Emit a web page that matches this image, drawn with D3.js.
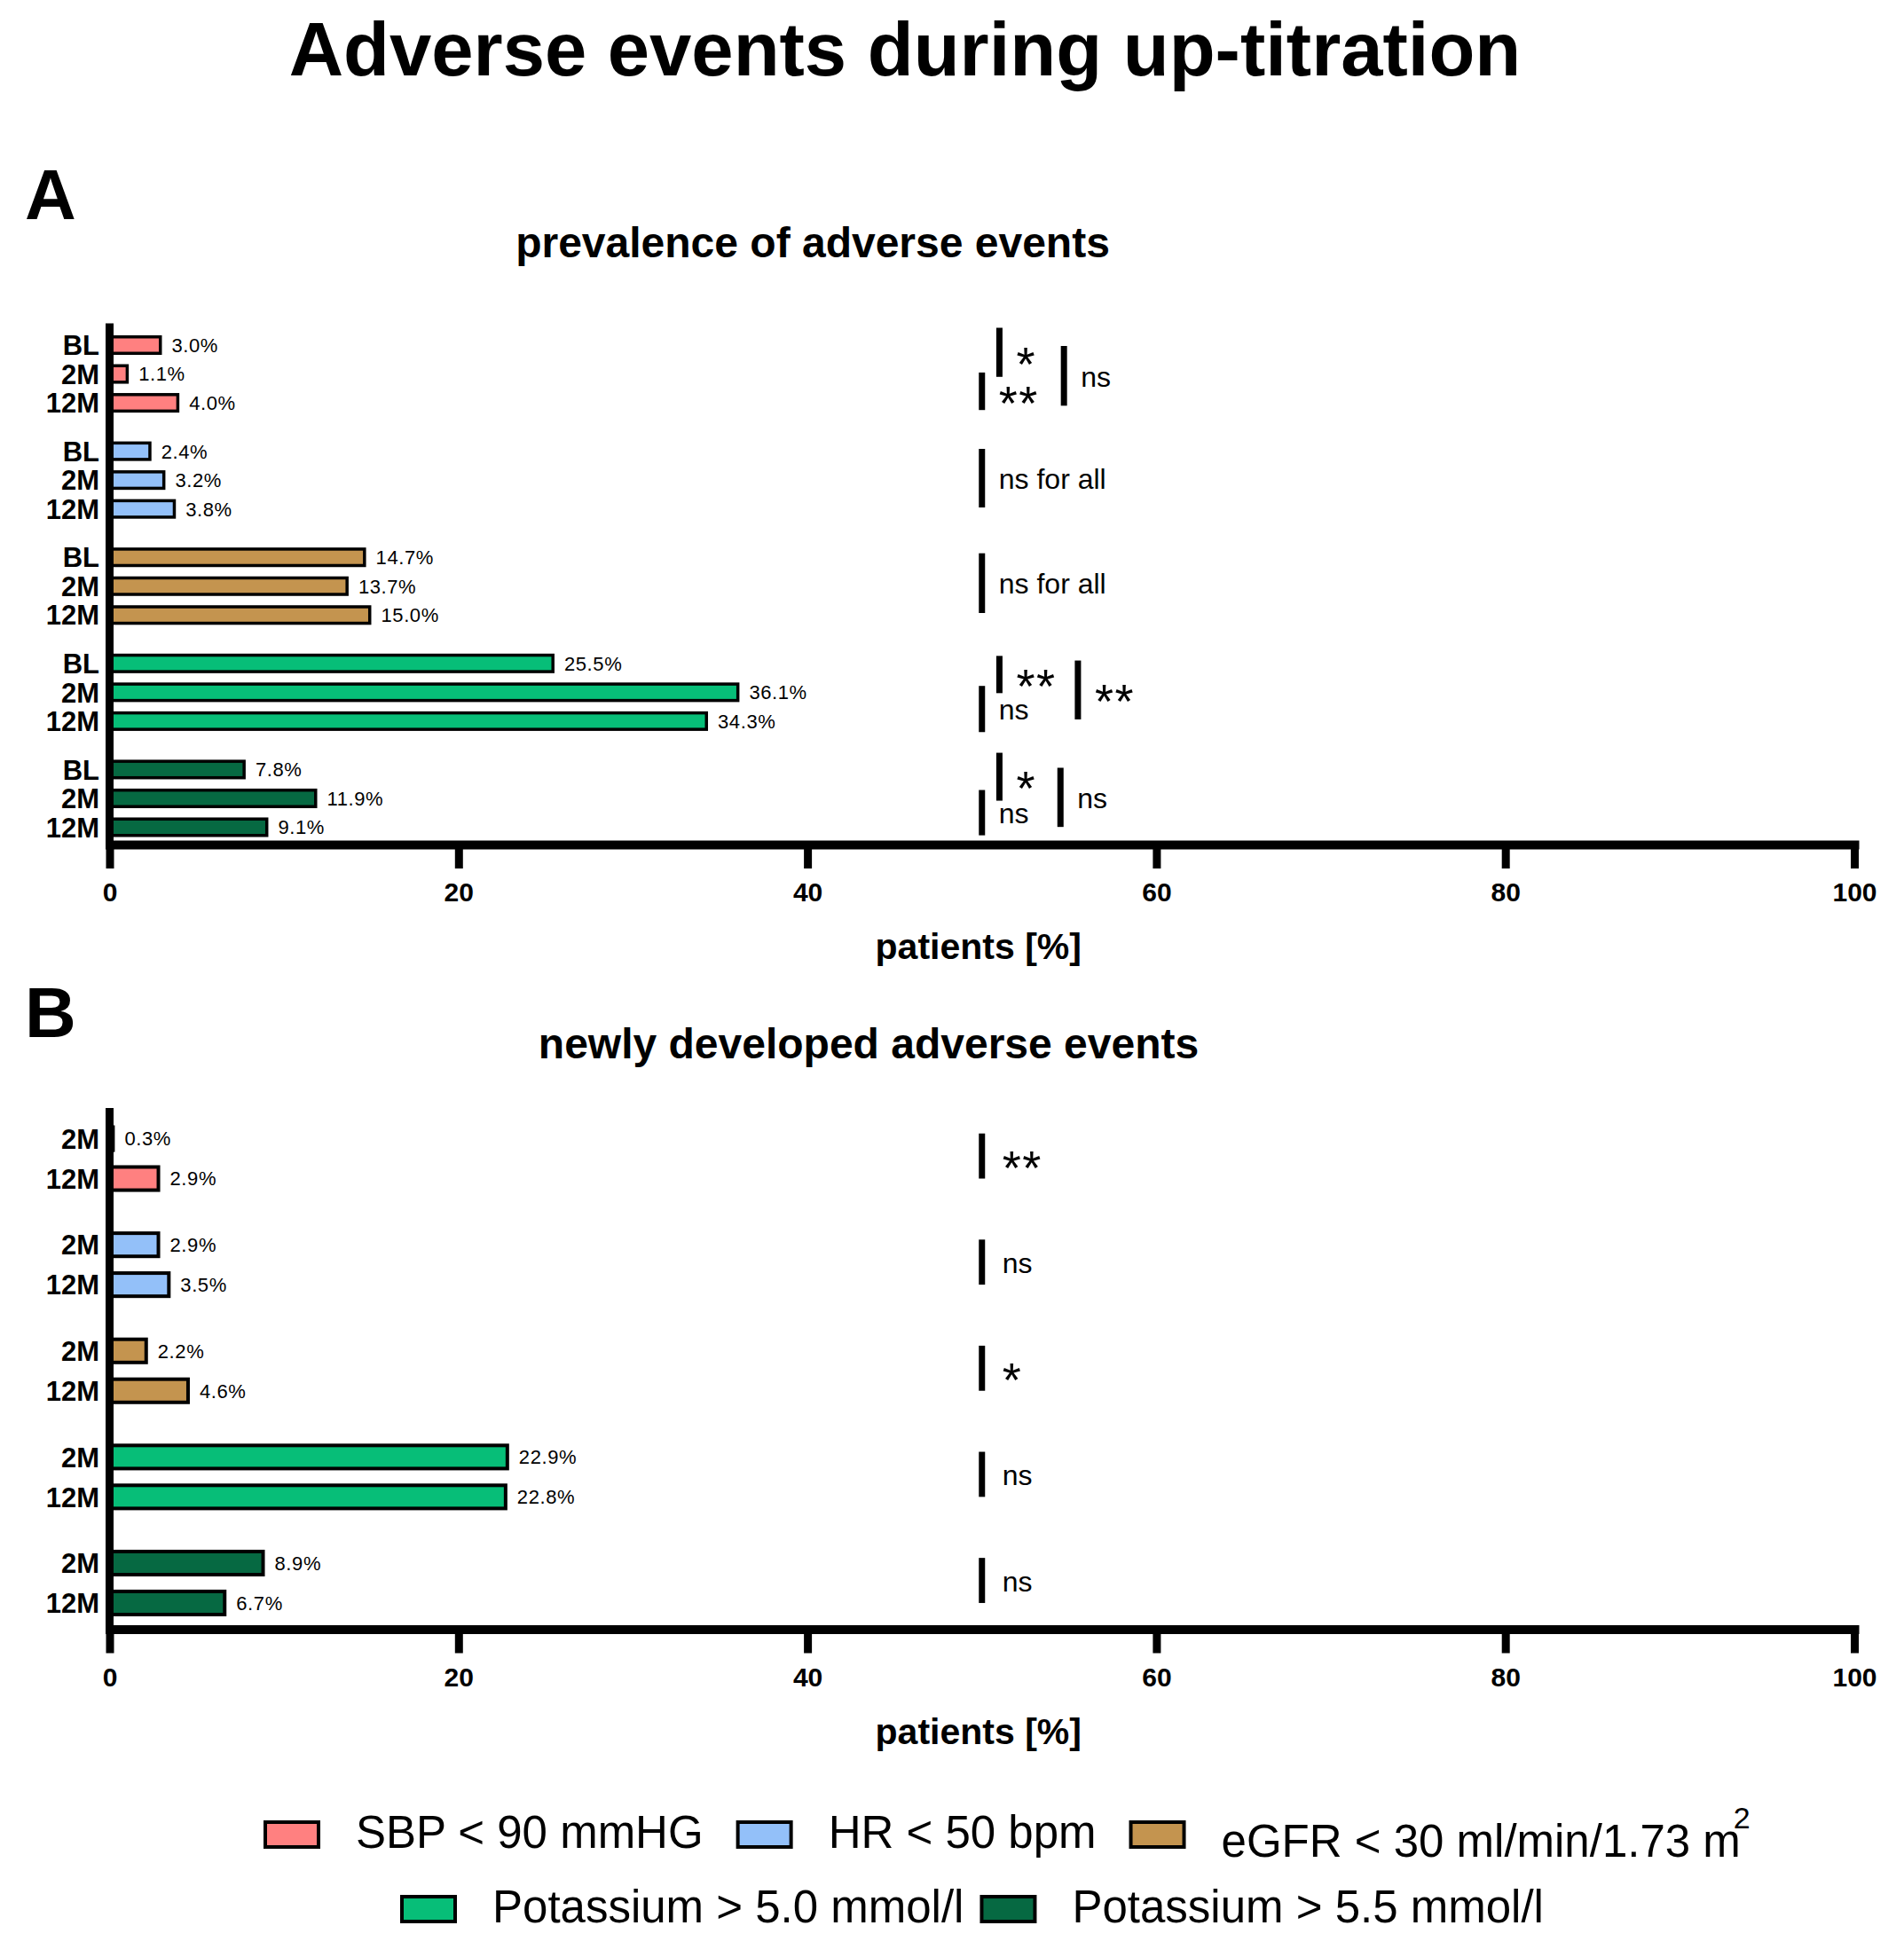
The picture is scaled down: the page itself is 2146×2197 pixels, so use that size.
<!DOCTYPE html>
<html>
<head>
<meta charset="utf-8">
<script src="https://d3js.org/d3.v7.min.js"></script>
<style>
body { margin: 0; background: #fff; }
text { font-family: "Liberation Sans", Arial, sans-serif; fill: #000; }
.bar { stroke: #000; }
.sig { stroke: #000; stroke-width: 7; }
</style>
</head>
<body>
<div id="chart"></div>
<script>
// ---- data ----
const groups = ["SBP", "HR", "eGFR", "K50", "K55"];
const legendLabels = ["SBP < 90 mmHG", "HR < 50 bpm", "eGFR < 30 ml/min/1.73 m", "Potassium > 5.0 mmol/l", "Potassium > 5.5 mmol/l"];
const colors = ["#ff8080", "#93c0f9", "#c4944f", "#07be78", "#066942"];
const xTicks = [0, 20, 40, 60, 80, 100];

// A: prevalence at baseline, 2 months, 12 months
const prevTimes = ["BL", "2M", "12M"];
const prevSBP = [3.0, 1.1, 4.0];
const prevHR = [2.4, 3.2, 3.8];
const prevEGFR = [14.7, 13.7, 15.0];
const prevK50 = [25.5, 36.1, 34.3];
const prevK55 = [7.8, 11.9, 9.1];

// B: newly developed at 2 months, 12 months
const newTimes = ["2M", "12M"];
const newSBP = [0.3, 2.9];
const newHR = [2.9, 3.5];
const newEGFR = [2.2, 4.6];
const newK50 = [22.9, 22.8];
const newK55 = [8.9, 6.7];

// significance brackets: x in %, from/to in bar rows of the group
const prevSig = [
  {g: "SBP", x: 51, from: -0.6, to: 1.1, label: "*"},
  {g: "SBP", x: 50, from: 0.95, to: 2.25, label: "**"},
  {g: "SBP", x: 54.7, from: 0.03, to: 2.1, label: "ns"},
  {g: "HR", x: 50, from: -0.08, to: 1.95, label: "ns for all"},
  {g: "eGFR", x: 50, from: -0.14, to: 1.93, label: "ns for all"},
  {g: "K50", x: 51, from: -0.26, to: 1.03, label: "**"},
  {g: "K50", x: 50, from: 0.78, to: 2.38, label: "ns"},
  {g: "K50", x: 55.5, from: -0.1, to: 1.94, label: "**"},
  {g: "K55", x: 51, from: -0.58, to: 1.08, label: "*"},
  {g: "K55", x: 50, from: 0.71, to: 2.28, label: "ns"},
  {g: "K55", x: 54.5, from: -0.06, to: 1.99, label: "ns"}
];
const newSig = [
  {g: "SBP", x: 50, from: -0.13, to: 1.0, label: "**"},
  {g: "HR", x: 50, from: -0.13, to: 1.0, label: "ns"},
  {g: "eGFR", x: 50, from: -0.13, to: 1.0, label: "*"},
  {g: "K50", x: 50, from: -0.13, to: 1.0, label: "ns"},
  {g: "K55", x: 50, from: -0.13, to: 1.0, label: "ns"}
];

// ---- drawing ----
const W = 2146, H = 2197;
const svg = d3.select("#chart").append("svg")
    .attr("width", W)
    .attr("height", H);

const x = d3.scaleLinear().domain([0, 100]).range([123.5, 2090]);

svg.append("text")
    .attr("x", 1020).attr("y", 85)
    .attr("text-anchor", "middle")
    .attr("font-size", 85).attr("font-weight", "bold")
    .text("Adverse events during up-titration");

function panel(cfg) {
  const g = svg.append("g");

  const yGroup = d3.scalePoint()
      .domain(groups)
      .range([cfg.top + 2.5, cfg.axisY + 2.5])
      .padding(0.456);
  const n = cfg.times.length;
  const innerStep = yGroup.step() * cfg.innerFrac;
  const inner = d3.scaleBand()
      .domain(cfg.times)
      .range([-n * innerStep / 2, n * innerStep / 2])
      .paddingInner(cfg.pad)
      .paddingOuter(cfg.pad / 2);
  const half = inner.bandwidth() / 2;
  const row = d3.scaleLinear()
      .domain([0, n - 1])
      .range([inner(cfg.times[0]) + half, inner(cfg.times[n - 1]) + half]);

  const rows = groups.flatMap((gn, gi) => cfg.times.map((t, ti) =>
      ({g: gn, gi: gi, t: t, v: cfg.values[gi][ti]})));

  // panel letter + subtitle
  g.append("text")
      .attr("x", 28).attr("y", cfg.letterY)
      .attr("font-size", 80).attr("font-weight", "bold")
      .text(cfg.letter);
  g.append("text")
      .attr("x", cfg.subX).attr("y", cfg.subY)
      .attr("text-anchor", "middle")
      .attr("font-size", 48).attr("font-weight", "bold")
      .text(cfg.subtitle);

  // bars
  g.selectAll(".bar")
      .data(rows)
    .join("rect")
      .attr("class", "bar")
      .attr("x", x(0))
      .attr("y", d => yGroup(d.g) + inner(d.t))
      .attr("width", d => Math.max(0.5, x(d.v) - x(0) - cfg.sw / 2))
      .attr("height", inner.bandwidth())
      .attr("fill", d => colors[d.gi])
      .attr("stroke-width", cfg.sw);

  // value labels
  g.selectAll(".val")
      .data(rows)
    .join("text")
      .attr("class", "val")
      .attr("x", d => x(d.v) + 11)
      .attr("y", d => yGroup(d.g) + inner(d.t) + half)
      .attr("dy", "0.36em")
      .attr("font-size", 22)
      .attr("letter-spacing", 0.6)
      .text(d => d.v.toFixed(1) + "%");

  // category labels
  g.selectAll(".cat")
      .data(rows)
    .join("text")
      .attr("class", "cat")
      .attr("x", 112)
      .attr("y", d => yGroup(d.g) + inner(d.t) + half)
      .attr("dy", "0.36em")
      .attr("text-anchor", "end")
      .attr("font-size", 31).attr("font-weight", "bold")
      .text(d => d.t);

  // y axis line
  g.append("line")
      .attr("x1", x(0)).attr("x2", x(0))
      .attr("y1", cfg.top).attr("y2", cfg.axisY)
      .attr("stroke", "#000").attr("stroke-width", 9);

  // x axis
  const ax = g.append("g")
      .attr("transform", "translate(0," + cfg.axisY + ")")
      .call(d3.axisBottom(x).tickValues(xTicks).tickSize(27).tickSizeOuter(0));
  ax.select(".domain")
      .attr("stroke-width", 10)
      .attr("stroke-linecap", "square");
  ax.selectAll(".tick line").attr("stroke-width", 9);
  ax.selectAll(".tick text")
      .attr("y", 64).attr("dy", 0)
      .attr("font-size", 30).attr("font-weight", "bold");

  g.append("text")
      .attr("x", (x(0) + x(100)) / 2 - 4)
      .attr("y", cfg.axisY + 129)
      .attr("text-anchor", "middle")
      .attr("font-size", 41).attr("font-weight", "bold")
      .text("patients [%]");

  // significance brackets
  const y0 = d => yGroup(d.g) + row(d.from);
  const y1 = d => yGroup(d.g) + row(d.to);
  g.selectAll(".sig")
      .data(cfg.sig)
    .join("line")
      .attr("class", "sig")
      .attr("x1", d => x(d.x)).attr("x2", d => x(d.x))
      .attr("y1", y0).attr("y2", y1);

  const star = d => d.label.startsWith("*");
  g.selectAll(".sigtxt")
      .data(cfg.sig)
    .join("text")
      .attr("class", "sigtxt")
      .attr("x", d => x(d.x) + cfg.labelDx)
      .attr("y", d => {
        const mid = (y0(d) + y1(d)) / 2 + 3.5;
        return star(d) ? mid + 28 : mid + 8.5;
      })
      .attr("font-size", d => star(d) ? 54 : 32)
      .attr("letter-spacing", d => star(d) ? 1.6 : null)
      .text(d => d.label);
}

panel({
  letter: "A", letterY: 247,
  subtitle: "prevalence of adverse events", subX: 916, subY: 290,
  top: 364.5, axisY: 952,
  times: prevTimes,
  values: [prevSBP, prevHR, prevEGFR, prevK50, prevK55],
  innerFrac: 0.272, pad: 0.43, sw: 3.5,
  sig: prevSig, labelDx: 19
});

panel({
  letter: "B", letterY: 1169,
  subtitle: "newly developed adverse events", subX: 979, subY: 1193,
  top: 1249, axisY: 1836.5,
  times: newTimes,
  values: [newSBP, newHR, newEGFR, newK50, newK55],
  innerFrac: 0.376, pad: 0.42, sw: 4,
  sig: newSig, labelDx: 23
});

// legend
const legendRows = [[0, 1, 2], [3, 4]];
const legendStart = [297, 451];
const legendGap = [37, 18];
const legendMid = [2068, 2152];
const legendBase = [2083, 2167];

legendRows.forEach((items, r) => {
  let cx = legendStart[r];
  items.forEach(i => {
    const lg = svg.append("g");
    lg.append("rect")
        .attr("x", cx + 2).attr("y", legendMid[r] - 14)
        .attr("width", 60).attr("height", 28)
        .attr("fill", colors[i])
        .attr("stroke", "#000").attr("stroke-width", 4);
    const tx = cx + 104;
    const t = lg.append("text")
        .attr("x", tx)
        .attr("y", legendBase[r] + (i === 2 ? 10 : 0))
        .attr("font-size", 51);
    t.append("tspan").text(legendLabels[i]);
    if (i === 2) {
      t.append("tspan")
          .attr("dx", -8).attr("dy", -32)
          .attr("font-size", 34)
          .text("2");
    }
    cx = tx + t.node().getComputedTextLength() + legendGap[r];
  });
});
</script>
</body>
</html>
